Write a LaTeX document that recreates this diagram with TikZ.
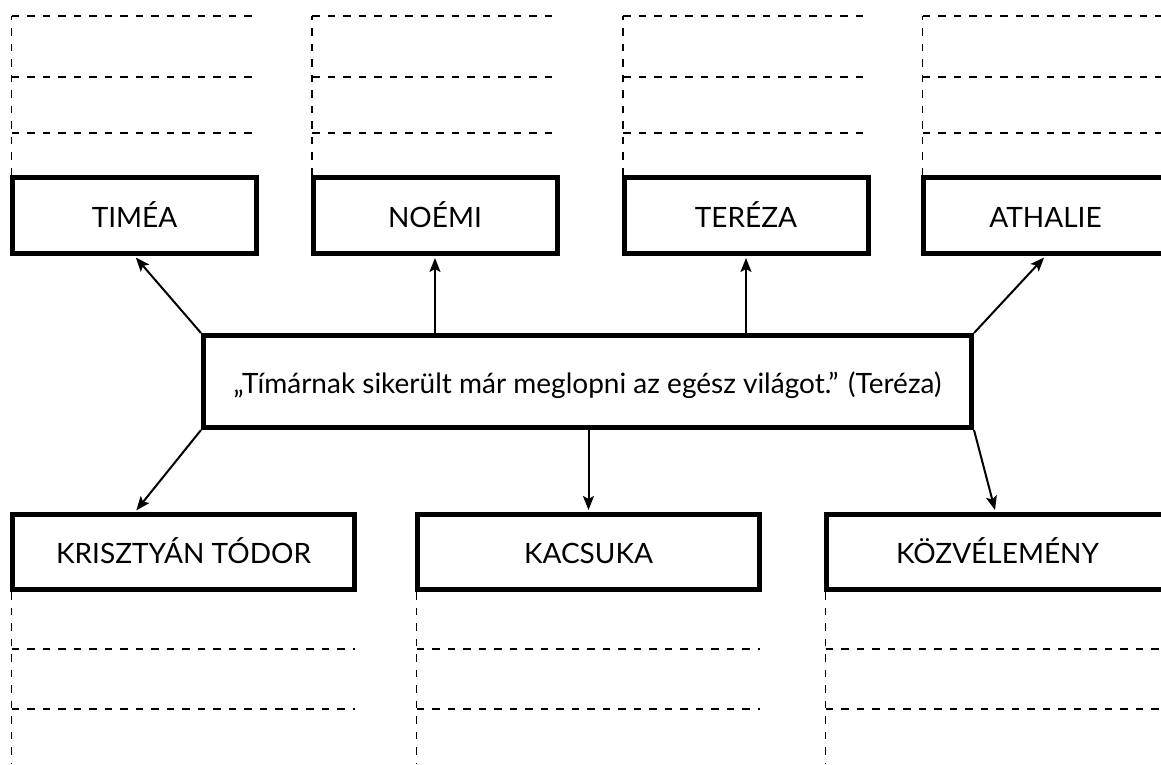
\documentclass[tikz,border=0pt]{standalone}
\usepackage{fontspec}
\setmainfont{Lato}
\usetikzlibrary{arrows.meta,calc}
\tikzset{
  box/.style={draw, line width=5pt, rectangle, inner sep=0pt, text height=23pt, text depth=0pt, font=\fontsize{28}{32}\selectfont},
  topbox/.style={box, minimum width=244pt, minimum height=76pt},
  botbox/.style={box, minimum width=342pt, minimum height=75pt},
  rule/.style={line width=1.5pt, dash pattern=on 7.5pt off 8pt},
  arr/.style={line width=2pt, -{Stealth[length=14pt,width=11pt,inset=3pt]}, shorten >=2pt}
}
\begin{document}
\begin{tikzpicture}[x=1pt,y=-1pt]
\useasboundingbox (0,0) rectangle (1161,764);
\clip (0,0) rectangle (1161,764);
% top boxes
\node[topbox] (timea) at (134.5,215.5) {TIMÉA};
\node[topbox] (noemi) at (435,215.5) {NOÉMI};
\node[topbox] (tereza) at (746,215.5) {TERÉZA};
\node[topbox] (athalie) at (1045.5,215.5) {ATHALIE};
% center
\node[box, minimum width=768pt, minimum height=92pt] (c) at (587.5,381.5) {„Tímárnak sikerült már meglopni az egész világot.” (Teréza)};
% bottom boxes
\node[botbox] (kt) at (183.5,552) {KRISZTYÁN TÓDOR};
\node[botbox] (kac) at (588.5,552) {KACSUKA};
\node[botbox] (koz) at (997.5,552) {KÖZVÉLEMÉNY};
% dashed writing lines, top
\foreach \b in {timea,noemi,tereza,athalie}{
  \draw[rule] ($(\b.north west)+(1.5,0)$) -- ++(0,-159);
  \foreach \yy in {16,77,133}{
    \draw[rule] ($(\b.north west)+(1.5,\yy-175)$) -- ($(\b.north east)+(-2,\yy-175)$);
  }
}
% dashed writing lines, bottom
\foreach \b in {kt,kac,koz}{
  \draw[rule] ($(\b.south west)+(1.5,0)$) -- ++(0,172);
  \foreach \yy in {649,709}{
    \draw[rule] ($(\b.south west)+(1.5,\yy-592)$) -- ($(\b.south east)+(-2,\yy-592)$);
  }
}
% connectors
\draw[arr] (c.north west) -- (timea.south);
\draw[arr] (c.north -| noemi.south) -- (noemi.south);
\draw[arr] (c.north -| tereza.south) -- (tereza.south);
\draw[arr] (c.north east) -- (athalie.south);
\draw[arr] (c.south west) -- ($(kt.north west)+(125,0)$);
\draw[arr] (c.south -| kac.north) -- (kac.north);
\draw[arr] (c.south east) -- ($(koz.north)+(-2,0)$);
\end{tikzpicture}
\end{document}
